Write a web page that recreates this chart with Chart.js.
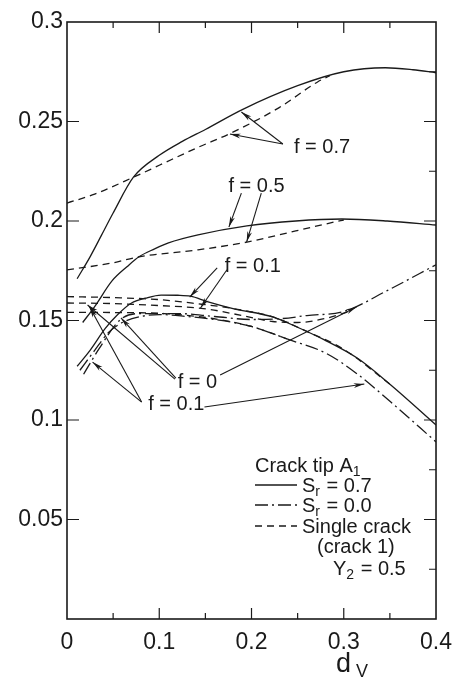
<!DOCTYPE html>
<html lang="en">
<head>
<meta charset="UTF-8">
<title>Crack tip A1</title>
<style>
  body { margin: 0; background: #fff; }
  #wrap { width: 462px; height: 686px; }
</style>
</head>
<body>
<div id="wrap"><canvas id="chart"></canvas></div>
<script src="https://cdn.jsdelivr.net/npm/chart.js"></script>
<script>
// f = 0.7, Sr = 0.7 (solid) and single crack (dashed)
const dvS07 = [0.011, 0.025, 0.037, 0.05, 0.072, 0.1, 0.125, 0.15, 0.19, 0.25, 0.3, 0.345, 0.375, 0.4];
const kS07  = [0.171, 0.182, 0.1925, 0.204, 0.222, 0.233, 0.240, 0.246, 0.256, 0.268, 0.275, 0.277, 0.276, 0.2745];
const dvC07 = [0, 0.03, 0.072, 0.1, 0.142, 0.177, 0.23, 0.272, 0.285];
const kC07  = [0.209, 0.2135, 0.222, 0.228, 0.237, 0.244, 0.257, 0.270, 0.273];

// f = 0.5
const dvS05 = [0.017, 0.03, 0.049, 0.065, 0.078, 0.095, 0.11, 0.142, 0.195, 0.248, 0.298, 0.347, 0.4];
const kS05  = [0.149, 0.157, 0.170, 0.177, 0.182, 0.186, 0.189, 0.193, 0.1975, 0.200, 0.201, 0.200, 0.198];
const dvC05 = [0, 0.05, 0.078, 0.142, 0.195, 0.248, 0.29, 0.3];
const kC05  = [0.1754, 0.179, 0.182, 0.1855, 0.1894, 0.195, 0.1995, 0.2005];

// f = 0.1, Sr = 0.7 (solid) and Sr = 0.0 (dash-dot)
const dvS01 = [0.011, 0.025, 0.0415, 0.055, 0.07, 0.085, 0.102, 0.12, 0.134, 0.152, 0.18, 0.223, 0.248, 0.278, 0.315, 0.351, 0.4];
const kS01  = [0.127, 0.135, 0.146, 0.153, 0.1588, 0.1612, 0.1628, 0.1627, 0.1622, 0.1595, 0.156, 0.1518, 0.147, 0.1405, 0.131, 0.1176, 0.0975];
const dvD01 = [0.014, 0.03, 0.045, 0.06, 0.08, 0.1, 0.13, 0.16, 0.2, 0.24, 0.281, 0.315, 0.351, 0.4];
const kD01  = [0.125, 0.135, 0.144, 0.149, 0.152, 0.153, 0.152, 0.1505, 0.147, 0.1405, 0.1335, 0.123, 0.109, 0.089];

// f = 0, Sr = 0.0 (dash-dot)
const dvD00 = [0.018, 0.035, 0.058, 0.08, 0.12, 0.16, 0.2, 0.234, 0.26, 0.3, 0.347, 0.4];
const kD00  = [0.123, 0.136, 0.1505, 0.1535, 0.1535, 0.152, 0.1505, 0.151, 0.1525, 0.1545, 0.165, 0.178];

// single crack, lower group (dashed)
const dvCa = [0, 0.05, 0.1, 0.14, 0.18, 0.223, 0.26, 0.3, 0.35];
const kCa  = [0.162, 0.1615, 0.1605, 0.1585, 0.156, 0.1518, 0.1445, 0.1355, 0.118];
const dvCb = [0, 0.05, 0.1, 0.148, 0.19, 0.223, 0.25, 0.28, 0.305];
const kCb  = [0.1588, 0.1585, 0.1575, 0.156, 0.1525, 0.1495, 0.149, 0.151, 0.1543];
const dvCc = [0, 0.05, 0.105, 0.158, 0.2, 0.24];
const kCc  = [0.1541, 0.154, 0.1535, 0.151, 0.147, 0.1405];

const xTicksMajor = [0.1, 0.2, 0.3];
const xTicksMinor = [0.05, 0.15, 0.25, 0.35];
const yTicksMajor = [0.05, 0.1, 0.15, 0.2, 0.25];
const yTicksMinor = [0.025, 0.075, 0.125, 0.175, 0.225, 0.275];

// labels: text, dv, k (baseline-left anchor)
const labelText = ['f = 0.7', 'f = 0.5', 'f = 0.1', 'f = 0', 'f = 0.1'];
const labelDv   = [0.246, 0.175, 0.171, 0.12, 0.088];
const labelK    = [0.2342, 0.2146, 0.1744, 0.1161, 0.105];

// arrows: from (dv, k) to (dv, k), head at the end
const arrowFrom = [[0.234, 0.2387], [0.234, 0.2387], [0.189, 0.214], [0.2106, 0.214],
                   [0.1628, 0.1765], [0.1734, 0.1755], [0.117, 0.1205], [0.118, 0.121],
                   [0.166, 0.1226], [0.0809, 0.109], [0.0809, 0.109], [0.149, 0.1065]];
const arrowTo   = [[0.189, 0.2548], [0.1766, 0.2437], [0.1755, 0.197], [0.1947, 0.1894],
                   [0.133, 0.1618], [0.1447, 0.1563], [0.0223, 0.1578], [0.0585, 0.1513],
                   [0.3138, 0.1568], [0.0277, 0.1291], [0.0245, 0.1568], [0.3223, 0.1181]];

const INK = '#1a1a1a';
const SOLID = [], DASH = [7, 5], DASHDOT = [13, 4, 2, 4];

function pts(xs, ys) { return xs.map((x, i) => ({ x: x, y: ys[i] })); }
function line(xs, ys, dash) {
    return {
        data: pts(xs, ys), showLine: true, borderColor: INK, borderWidth: 1.3,
        borderDash: dash, pointRadius: 0, cubicInterpolationMode: 'monotone', fill: false
    };
}

function drawParts(ctx, parts, x, y, size) {
    parts.forEach(p => {
        const sub = p[1] === 1;
        ctx.font = (sub ? Math.round(size * 0.68) : size) + 'px "Liberation Sans", Arial, sans-serif';
        ctx.fillText(p[0], x, sub ? y + 4 : y);
        x += ctx.measureText(p[0]).width + (sub ? 1 : 0);
    });
}

const decor = {
    id: 'decor',
    afterDatasetsDraw(chart) {
        const ctx = chart.ctx, a = chart.chartArea;
        const xs = chart.scales.x, ys = chart.scales.y;
        ctx.save();
        ctx.strokeStyle = INK; ctx.fillStyle = INK;
        // frame
        ctx.lineWidth = 1.6;
        ctx.setLineDash([]);
        ctx.strokeRect(a.left, a.top, a.right - a.left, a.bottom - a.top);
        // inward ticks
        ctx.lineWidth = 1.2;
        ctx.beginPath();
        xTicksMajor.forEach(v => { const p = xs.getPixelForValue(v);
            ctx.moveTo(p, a.bottom); ctx.lineTo(p, a.bottom - 11);
            ctx.moveTo(p, a.top); ctx.lineTo(p, a.top + 11); });
        xTicksMinor.forEach(v => { const p = xs.getPixelForValue(v);
            ctx.moveTo(p, a.bottom); ctx.lineTo(p, a.bottom - 6);
            ctx.moveTo(p, a.top); ctx.lineTo(p, a.top + 6); });
        yTicksMajor.forEach(v => { const p = ys.getPixelForValue(v);
            ctx.moveTo(a.left, p); ctx.lineTo(a.left + 12, p);
            ctx.moveTo(a.right, p); ctx.lineTo(a.right - 12, p); });
        yTicksMinor.forEach(v => { const p = ys.getPixelForValue(v);
            ctx.moveTo(a.right, p); ctx.lineTo(a.right - 7, p); });
        ctx.stroke();

        // arrows
        ctx.lineWidth = 1.1;
        arrowFrom.forEach((f, i) => {
            const x1 = xs.getPixelForValue(f[0]), y1 = ys.getPixelForValue(f[1]);
            const x2 = xs.getPixelForValue(arrowTo[i][0]), y2 = ys.getPixelForValue(arrowTo[i][1]);
            const ang = Math.atan2(y2 - y1, x2 - x1), L = 11, w = 0.22;
            ctx.beginPath();
            ctx.moveTo(x1, y1); ctx.lineTo(x2, y2);
            ctx.stroke();
            ctx.beginPath();
            ctx.moveTo(x2, y2);
            ctx.lineTo(x2 - L * Math.cos(ang - w), y2 - L * Math.sin(ang - w));
            ctx.lineTo(x2 - L * 0.7 * Math.cos(ang), y2 - L * 0.7 * Math.sin(ang));
            ctx.lineTo(x2 - L * Math.cos(ang + w), y2 - L * Math.sin(ang + w));
            ctx.closePath();
            ctx.fill();
        });

        // curve labels
        ctx.textBaseline = 'alphabetic';
        ctx.textAlign = 'left';
        ctx.font = '20px "Liberation Sans", Arial, sans-serif';
        labelText.forEach((t, i) => {
            ctx.fillText(t, xs.getPixelForValue(labelDv[i]), ys.getPixelForValue(labelK[i]));
        });

        // legend block
        drawParts(ctx, [['Crack tip A', 0], ['1', 1]], 255, 472, 20);
        const rows = [[SOLID, 485, [['S', 0], ['r', 1], [' = 0.7', 0]], 492],
                      [DASHDOT, 505, [['S', 0], ['r', 1], [' = 0.0', 0]], 512],
                      [DASH, 526, [['Single crack', 0]], 533]];
        ctx.lineWidth = 1.3;
        rows.forEach(r => {
            ctx.setLineDash(r[0]);
            ctx.beginPath(); ctx.moveTo(255, r[1]); ctx.lineTo(297, r[1]); ctx.stroke();
            ctx.setLineDash([]);
            drawParts(ctx, r[2], 302, r[3], 20);
        });
        drawParts(ctx, [['(crack 1)', 0]], 317, 553, 20);
        drawParts(ctx, [['Y', 0], ['2', 1], [' = 0.5', 0]], 333, 575, 20);

        // x axis title d_V
        ctx.font = '27px "Liberation Sans", Arial, sans-serif';
        ctx.fillText('d', 336, 672);
        ctx.font = '18px "Liberation Sans", Arial, sans-serif';
        ctx.fillText('V', 356, 677);
        ctx.restore();
    }
};

new Chart(document.getElementById('chart'), {
    type: 'scatter',
    data: {
        datasets: [
            line(dvS07, kS07, SOLID), line(dvC07, kC07, DASH),
            line(dvS05, kS05, SOLID), line(dvC05, kC05, DASH),
            line(dvS01, kS01, SOLID), line(dvD01, kD01, DASHDOT),
            line(dvD00, kD00, DASHDOT),
            line(dvCa, kCa, DASH), line(dvCb, kCb, DASH), line(dvCc, kCc, DASH)
        ]
    },
    options: {
        responsive: true,
        maintainAspectRatio: false,
        animation: false,
        layout: { padding: { top: 22, right: 19, left: 0, bottom: 0 } },
        plugins: { legend: { display: false }, tooltip: { enabled: false } },
        scales: {
            x: {
                min: 0, max: 0.4,
                grid: { display: false, drawTicks: false },
                border: { display: false },
                ticks: { stepSize: 0.1, padding: 10, color: INK,
                         font: { family: '"Liberation Sans", Arial, sans-serif', size: 23 },
                         callback: v => String(+v.toFixed(2)) },
                afterFit: s => { s.height = 67; }
            },
            y: {
                min: 0, max: 0.3,
                grid: { display: false, drawTicks: false },
                border: { display: false },
                ticks: { stepSize: 0.05, padding: 4, color: INK,
                         font: { family: '"Liberation Sans", Arial, sans-serif', size: 23 },
                         callback: v => v === 0 ? '' : String(+v.toFixed(3)) },
                afterFit: s => { s.width = 67; }
            }
        }
    },
    plugins: [decor]
});
</script>
</body>
</html>
